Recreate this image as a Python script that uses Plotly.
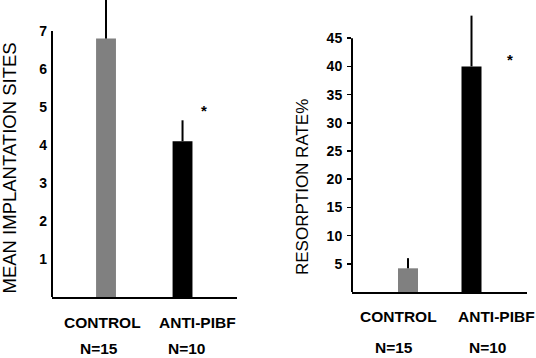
import plotly.graph_objects as go

# ---- data ----
categories = ["CONTROL", "ANTI-PIBF"]
group_n = ["N=15", "N=10"]
implantation_mean = [6.8, 4.1]
implantation_err = [1.2, 0.55]
resorption_rate = [4.2, 40.0]
resorption_err = [1.8, 9.0]
bar_colors = ["#808080", "#000000"]
left_ticks = [1, 2, 3, 4, 5, 6, 7]
right_ticks = [5, 10, 15, 20, 25, 30, 35, 40, 45]

W, H = 536, 358
FONT = "Arial, Liberation Sans, sans-serif"

def px_x(p):
    return p / W

def px_y(p):
    return (H - p) / H

fig = go.Figure()

fig.add_trace(go.Bar(
    x=categories, y=implantation_mean, xaxis="x", yaxis="y",
    marker=dict(color=bar_colors, line=dict(width=0)), width=0.26,
    error_y=dict(type="data", symmetric=False, array=implantation_err,
                 arrayminus=[0, 0], color="black", thickness=2, width=0),
    showlegend=False,
))
fig.add_trace(go.Bar(
    x=categories, y=resorption_rate, xaxis="x2", yaxis="y2",
    marker=dict(color=bar_colors, line=dict(width=0)), width=0.315,
    error_y=dict(type="data", symmetric=False, array=resorption_err,
                 arrayminus=[0, 0], color="black", thickness=2, width=0),
    showlegend=False,
))

tickfont = dict(family=FONT, size=14, color="black", weight="bold")

fig.update_layout(
    width=W, height=H,
    margin=dict(l=0, r=0, t=0, b=0),
    paper_bgcolor="white", plot_bgcolor="white",
    xaxis=dict(domain=[px_x(52), px_x(237)], range=[-0.706, 1.712],
               showline=True, linecolor="black", linewidth=2,
               showticklabels=False, ticks="", showgrid=False, zeroline=False,
               anchor="y"),
    yaxis=dict(domain=[px_y(297), 1.0], range=[0, 297 / 38.0],
               tickvals=left_ticks, ticks="", showline=False,
               showgrid=False, zeroline=False, tickfont=tickfont,
               ticklabelstandoff=4, anchor="x"),
    xaxis2=dict(domain=[px_x(352), px_x(527)], range=[-0.882, 1.874],
                showline=True, linecolor="black", linewidth=2,
                showticklabels=False, ticks="", showgrid=False, zeroline=False,
                anchor="y2"),
    yaxis2=dict(domain=[px_y(292), 1.0], range=[0, 292 / 5.64],
                tickvals=right_ticks, ticks="outside", ticklen=4,
                tickwidth=1.5, tickcolor="black", showline=False,
                showgrid=False, zeroline=False, tickfont=tickfont,
                ticklabelstandoff=2, anchor="x2"),
)

# y-axis lines ending at the top tick
fig.add_shape(type="line", xref="x domain", yref="y", x0=0, x1=0,
              y0=0, y1=max(left_ticks), line=dict(color="black", width=2))
fig.add_shape(type="line", xref="x2 domain", yref="y2", x0=0, x1=0,
              y0=0, y1=max(right_ticks), line=dict(color="black", width=2))

# axis titles
fig.add_annotation(text="MEAN IMPLANTATION SITES", textangle=-90,
                   xref="paper", yref="paper", x=px_x(9.5), y=px_y(168),
                   xanchor="center", yanchor="middle", showarrow=False,
                   font=dict(family=FONT, size=18.5, color="black"))
fig.add_annotation(text="RESORPTION RATE%", textangle=-90,
                   xref="paper", yref="paper", x=px_x(302), y=px_y(187),
                   xanchor="center", yanchor="middle", showarrow=False,
                   font=dict(family=FONT, size=17, color="black"))

# category labels and group sizes
label_font = dict(family=FONT, size=15.5, color="black", weight="bold")
left_cat_x = [102, 197]
left_n_x = [99, 187]
right_cat_x = [398, 496]
right_n_x = [394, 488]
for cat, n, cx, nx in zip(categories, group_n, left_cat_x, left_n_x):
    fig.add_annotation(text=cat, xref="paper", yref="paper", x=px_x(cx), y=px_y(322),
                       xanchor="center", yanchor="middle", showarrow=False, font=label_font)
    fig.add_annotation(text=n, xref="paper", yref="paper", x=px_x(nx), y=px_y(348),
                       xanchor="center", yanchor="middle", showarrow=False, font=label_font)
for cat, n, cx, nx in zip(categories, group_n, right_cat_x, right_n_x):
    fig.add_annotation(text=cat, xref="paper", yref="paper", x=px_x(cx), y=px_y(316),
                       xanchor="center", yanchor="middle", showarrow=False, font=label_font)
    fig.add_annotation(text=n, xref="paper", yref="paper", x=px_x(nx), y=px_y(347),
                       xanchor="center", yanchor="middle", showarrow=False, font=label_font)

# significance asterisks
star_font = dict(family=FONT, size=15, color="black", weight="bold")
fig.add_annotation(text="*", xref="x", yref="y", x=1.285, y=4.9,
                   showarrow=False, font=star_font)
fig.add_annotation(text="*", xref="x2", yref="y2", x=1.61, y=41.3,
                   showarrow=False, font=star_font)

fig.write_html(
    "out.html",
    config={"displayModeBar": False, "staticPlot": True},
    post_script="document.body.style.margin='0';document.body.style.overflow='hidden';",
)
